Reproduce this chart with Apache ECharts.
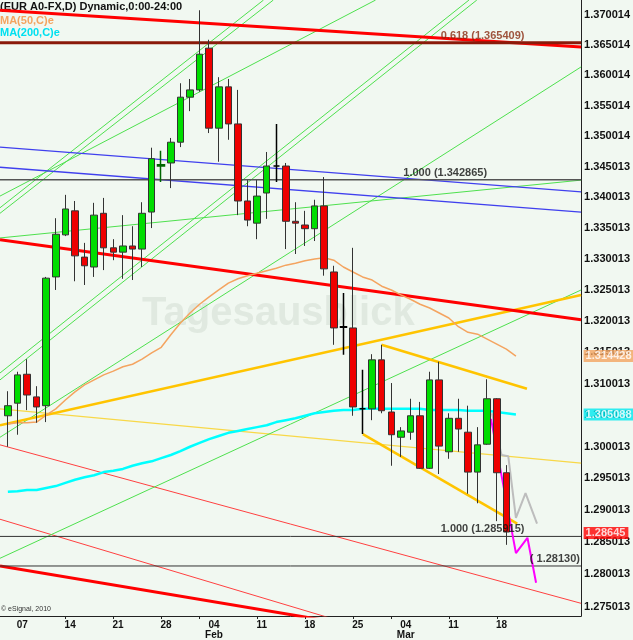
<!DOCTYPE html>
<html><head><meta charset="utf-8">
<script src="https://cdn.jsdelivr.net/npm/echarts@6/dist/echarts.min.js"></script>
<style>html,body{margin:0;padding:0;background:#f1f8f1;}#c{width:633px;height:640px;}</style>
</head><body><div id="c"></div>
<script>
// ---- candle data (daily EUR/USD, trading-day index 0..52) ----
const opens  = [1.3049,1.3069,1.3115,1.3079,1.3065,1.3271,1.3339,1.3378,1.3303,1.3287,
                1.3374,1.3318,1.3311,1.3321,1.3316,1.3376,1.3451,1.3456,1.3490,1.3564,
                1.3576,1.3645,1.3513,1.3581,1.3520,1.3394,1.3358,1.3407,1.3451,1.3451,
                1.3361,1.3355,1.3349,1.3386,1.3279,1.3191,1.3189,1.3060,1.3060,1.3138,
                1.3055,1.3015,1.3023,1.3049,1.2966,1.3106,1.2992,1.3045,1.3023,1.2960,
                1.3004,1.3076,1.2959];
const closes = [1.3065,1.3114,1.3082,1.3063,1.3269,1.3340,1.3381,1.3305,1.3289,1.3371,
                1.3318,1.3311,1.3321,1.3316,1.3374,1.3463,1.3453,1.3490,1.3564,1.3576,
                1.3635,1.3513,1.3581,1.3520,1.3394,1.3363,1.3402,1.3451,1.3451,1.3361,
                1.3358,1.3349,1.3386,1.3284,1.3189,1.3190,1.3063,1.3060,1.3138,1.3057,
                1.3019,1.3025,1.3049,1.2966,1.3106,1.3001,1.3045,1.3028,1.2960,1.3003,
                1.3076,1.2959,1.2866];
const lows   = [1.3000,1.3019,1.3058,1.3038,1.3039,1.3250,1.3337,1.3264,1.3258,1.3271,
                1.3282,1.3298,1.3268,1.3266,1.3287,1.3350,1.3425,1.3415,1.3482,1.3541,
                1.3573,1.3505,1.3458,1.3494,1.3371,1.3353,1.3332,1.3365,1.3425,1.3316,
                1.3308,1.3321,1.3329,1.3273,1.3162,1.3146,1.3049,1.3020,1.3042,1.3053,
                1.2970,1.2984,1.3011,1.2965,1.2965,1.2957,1.2981,1.2992,1.2926,1.2911,
                1.3003,1.2883,1.2846];
const highs  = [1.3088,1.3119,1.3139,1.3096,1.3271,1.3366,1.3404,1.3394,1.3326,1.3391,
                1.3399,1.3332,1.3371,1.3353,1.3392,1.3481,1.3476,1.3497,1.3587,1.3594,
                1.3708,1.3659,1.3597,1.3594,1.3576,1.3428,1.3428,1.3474,1.3520,1.3456,
                1.3392,1.3378,1.3396,1.3433,1.3289,1.3245,1.3318,1.3122,1.3147,1.3162,
                1.3101,1.3031,1.3076,1.3071,1.3119,1.3135,1.3053,1.3076,1.3065,1.3031,
                1.3107,1.3077,1.2971];
const dojiIndex = [16, 28, 35, 37];

// ---- moving averages (index 0..53) ----
const ma50 = [1.3036,1.3038,1.3038,1.3039,1.3050,1.3060,1.3074,1.3087,1.3098,1.3106,
              1.3114,1.3120,1.3127,1.3131,1.3139,1.3149,1.3158,1.3178,1.3197,1.3213,
              1.3227,1.3239,1.3250,1.3261,1.3268,1.3273,1.3277,1.3281,1.3285,1.3290,
              1.3293,1.3297,1.3300,1.3302,1.3298,1.3287,1.3279,1.3271,1.3266,1.3256,
              1.3250,1.3242,1.3235,1.3227,1.3221,1.3213,1.3205,1.3191,1.3182,1.3179,
              1.3171,1.3163,1.3155,1.3144];
const ma200 = [1.2929,1.2930,1.2932,1.2932,1.2935,1.2938,1.2943,1.2948,1.2952,1.2955,
               1.2960,1.2962,1.2965,1.2970,1.2974,1.2977,1.2982,1.2987,1.2993,1.3000,
               1.3006,1.3012,1.3017,1.3022,1.3025,1.3028,1.3031,1.3034,1.3039,1.3042,
               1.3045,1.3049,1.3053,1.3055,1.3057,1.3058,1.3058,1.3060,1.3060,1.3060,
               1.3060,1.3060,1.3060,1.3060,1.3058,1.3058,1.3058,1.3058,1.3057,1.3057,
               1.3057,1.3055,1.3053,1.3051];
const lastPrice = 1.28645, ma50Last = 1.314428, ma200Last = 1.305088;

// ---- axis ticks ----
const yTicks = [1.275013,1.280013,1.285013,1.290013,1.295013,1.300013,1.305013,1.310013,1.315013,1.320013,
                1.325013,1.330013,1.335013,1.340013,1.345013,1.350014,1.355014,1.360014,1.365014,1.370014];
const xTickLabels = ['07','14','21','28','04\nFeb','11','18','25','04\nMar','11','18'];
const xLabelPos = [1.5,6.5,11.5,16.5,21.5,26.5,31.5,36.5,41.5,46.5,51.5];
const xTickMarks = [6,11,16,20,26,31,36,40,46,51];
const X0 = -0.82, X1 = 59.8;

// ---- fibonacci / level lines ----
const fibLevels = [1.365409, 1.342865, 1.285915, 1.28130];
const fibTexts  = ['0.618 (1.365409)', '1.000 (1.342865)', '1.000 (1.285915)', '( 1.28130)'];
const fibTextX  = [45.1, 41.2, 45.1, 54.4];

// ---- drawn trend lines: [[index, price], ...] ----
const redThick = [ [[X0,1.3708],[X1,1.3647]], [[X0,1.3331],[X1,1.3202]], [[X0,1.2813],[40.2,1.2711]] ];
const redThin  = [ [[X0,1.3003],[X1,1.2755]], [[X0,1.2886],[40.2,1.2703]] ];
const blueLines = [ [[X0,1.3482],[X1,1.3409]], [[X0,1.3449],[X1,1.3376]] ];
const greenLines = [
  [[X0,1.3383],[26.67,1.3725]], [[X0,1.3374],[27.69,1.3725]],
  [[X0,1.3117],[48.1,1.3725]],  [[X0,1.3106],[48.92,1.3725]],
  [[X0,1.3402],[38.36,1.3725]],
  [[X0,1.3015],[X1,1.3614]], [[X0,1.2825],[X1,1.3250]], [[X0,1.3334],[X1,1.3428]]
];
const goldLines = [ [[X0,1.3034],[X1,1.3242]], [[38.97,1.3162],[54.15,1.3092]], [[37.03,1.3020],[53.13,1.2879]] ];
const paleYellow = [ [[X0,1.3060],[X1,1.2974]] ];
const magentaPath = [[50.4,1.3044],[53.0,1.2833],[54.2,1.2857],[55.1,1.2787]];
const grayPath = [[50.5,1.3053],[51.5,1.2987],[52.2,1.2985],[53.0,1.2888],[54.0,1.2927],[55.2,1.2879]];

const FF = '"Liberation Sans Narrow","Liberation Sans",Arial,sans-serif';

function lineSeries(data, color, width, z) {
  return {type:'line', data, symbol:'none', silent:true, animation:false, clip:true, z,
          lineStyle:{color, width}};
}
const series = [];
redThin.forEach(d => series.push(lineSeries(d, '#ff4040', 1, 2)));
paleYellow.forEach(d => series.push(lineSeries(d, '#f8d848', 1.3, 2)));
greenLines.forEach(d => series.push(lineSeries(d, '#4ee04e', 1, 2)));
blueLines.forEach(d => series.push(lineSeries(d, '#4040ee', 1.3, 2)));
goldLines.forEach(d => series.push(lineSeries(d, '#ffc400', 2.6, 3)));
redThick.forEach(d => series.push(lineSeries(d, '#ff0000', 3, 3)));
const fibColors = ['#8a1a0a', '#555555', '#333333', '#333333'];
const fibWidths = [3, 1.3, 1, 1];
fibLevels.forEach((v, i) => series.push(lineSeries([[X0, v], [X1, v]], fibColors[i], fibWidths[i], 3)));
series.push(lineSeries(grayPath, '#bdbdbd', 2, 3));
series.push(lineSeries(magentaPath, '#ff00ff', 2, 3));
series.push(lineSeries(ma50.map((v,i)=>[i,v]), '#f4a460', 1.5, 4));
series.push(lineSeries(ma200.map((v,i)=>[i,v]), '#00ffff', 2.5, 4));

const candleData = opens.map((o, i) => {
  const item = {value:[i, o, closes[i], lows[i], highs[i]]};
  if (dojiIndex.includes(i)) item.itemStyle = {borderColor: i === 16 ? '#006600' : '#000', borderColor0: i === 16 ? '#006600' : '#000', borderWidth:1.5};
  return item;
});
series.push({type:'candlestick', data:candleData, barWidth:7, z:6, silent:true, animation:false,
  itemStyle:{color:'#00dd00', color0:'#ee0000', borderColor:'#333', borderColor0:'#333', borderWidth:1}});

// fib level texts
series.push({type:'scatter', symbol:'circle', symbolSize:1, itemStyle:{color:'transparent'}, silent:true, animation:false, z:8,
  data: fibLevels.map((v,i)=>({value:[fibTextX[i], v],
    label:{color: i === 0 ? '#8a2a10' : '#111'}})),
  label:{show:true, position:'right', distance:0, offset:[0,-7], fontFamily:FF, fontWeight:'bold', fontSize:11,
    formatter: p => fibTexts[p.dataIndex]}});

// price tags on the right axis
const tagValues = [ma50Last, ma200Last, lastPrice];
const tagColors = ['#f4a460', '#00e8f0', '#ff0000'];
series.push({type:'scatter', symbol:'circle', symbolSize:1, itemStyle:{color:'transparent'}, silent:true, animation:false,
  zlevel:1, z:20, clip:false,
  data: tagValues.map((v,i)=>({value:[X1, v], label:{backgroundColor:tagColors[i]}})),
  label:{show:true, position:'right', distance:2, color:'#fff', fontWeight:'bold', fontSize:11, fontFamily:FF,
    padding:[1,3,0,2], lineHeight:11, formatter: p => String(tagValues[p.dataIndex])}});

const chart = echarts.init(document.getElementById('c'), null, {renderer:'canvas'});
chart.setOption({
  backgroundColor:'#f1f8f1',
  animation:false,
  grid:{left:0, right:42, top:0, bottom:24, containLabel:false},
  xAxis:{type:'value', min:X0, max:X1, splitLine:{show:false},
    axisLine:{show:true, onZero:false, lineStyle:{color:'#222', width:1}},
    axisTick:{show:true, customValues:xTickMarks, length:3, lineStyle:{color:'#222'}},
    axisLabel:{customValues:xLabelPos, margin:4, color:'#111', fontFamily:FF, fontWeight:'bold', fontSize:10, lineHeight:10,
      formatter: v => { const k = xLabelPos.findIndex(p => Math.abs(p - v) < 0.01); return k >= 0 ? xTickLabels[k] : ''; }}},
  yAxis:{type:'log', logBase:10, position:'right', min:1.27354, max:1.37251, splitLine:{show:false},
    axisLine:{show:true, onZero:false, lineStyle:{color:'#222', width:1}},
    axisTick:{show:false},
    axisLabel:{customValues:yTicks, margin:3, color:'#111', fontFamily:FF, fontWeight:'bold', fontSize:11,
      formatter: v => { let best = yTicks[0]; yTicks.forEach(t => { if (Math.abs(t - v) < Math.abs(best - v)) best = t; }); return best.toFixed(6); }}},
  graphic:[
    {type:'text', left:142, top:294, z:-10, silent:true,
      style:{text:'Tagesausblick', font:'bold 40px "Liberation Sans",Arial,sans-serif', fill:'#e0e9e0'}},
    {type:'text', left:0, top:1, silent:true,
      style:{text:'(EUR A0-FX,D) Dynamic,0:00-24:00', font:'bold 11px ' + FF, fill:'#111'}},
    {type:'text', left:0, top:15, silent:true,
      style:{text:'MA(50,C)e', font:'bold 11px ' + FF, fill:'#f4a460'}},
    {type:'text', left:0, top:27, silent:true,
      style:{text:'MA(200,C)e', font:'bold 11px ' + FF, fill:'#00e0f0'}},
    {type:'text', left:1, top:606, silent:true,
      style:{text:'© eSignal, 2010', font:'7px ' + FF, fill:'#333'}}
  ],
  series
});
</script></body></html>
